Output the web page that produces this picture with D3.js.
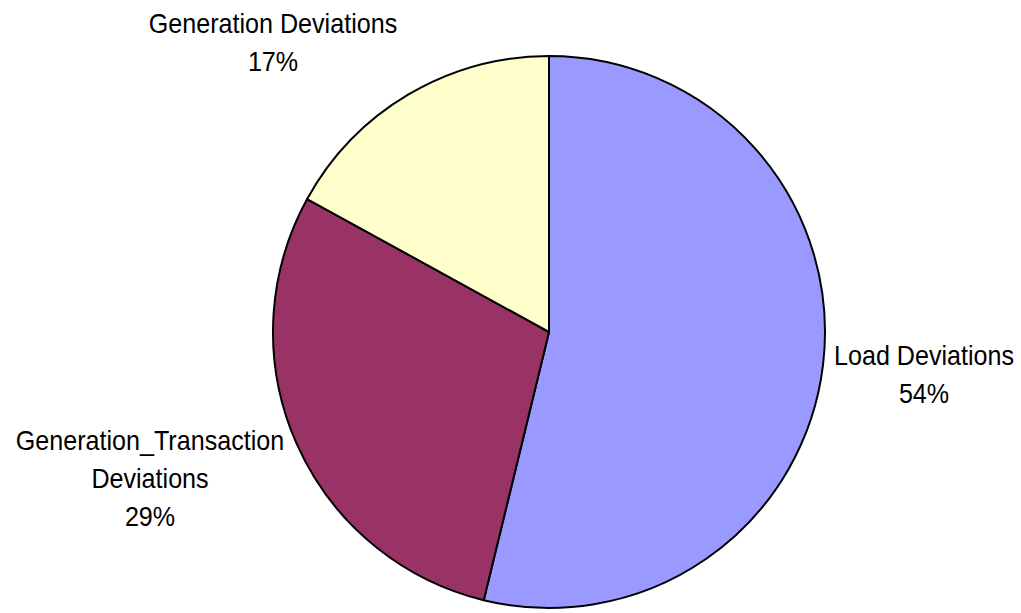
<!DOCTYPE html>
<html>
<head>
<meta charset="utf-8">
<script src="https://cdn.jsdelivr.net/npm/d3@7"></script>
<style>
  body { margin: 0; background: #fff; }
  .pie-label { font-family: "Liberation Sans Narrow", "Arial Narrow", "Liberation Sans", sans-serif; font-size: 27px; fill: #000; }
</style>
</head>
<body>
<div id="chart"></div>
<script>
const categories = ["Load Deviations", "Generation_Transaction Deviations", "Generation Deviations"];
const values = [53.8, 29.2, 17.0];
const colors = ["#9999FF", "#993366", "#FFFFCC"];

// label lines (Excel wraps the long name)
const labelLines = [
    ["Load Deviations"],
    ["Generation_Transaction", "Deviations"],
    ["Generation Deviations"]
];
// label anchor positions, worked out by eye from the reference
const labelPos = [
    { x: 924, y: 365 },
    { x: 150, y: 450 },
    { x: 273, y: 33 }
];

const width = 1021, height = 613;
const cx = 549, cy = 332, radius = 276;
const lineH = 38;
const squeeze = 0.93; // no narrow font installed, so squash the regular one

const svg = d3.select("#chart").append("svg")
    .attr("width", width)
    .attr("height", height);

const data = categories.map((name, i) => ({ name, value: values[i], i }));
const total = d3.sum(values);

const pie = d3.pie()
    .value(d => d.value)
    .sort(null);

const arc = d3.arc()
    .innerRadius(0)
    .outerRadius(radius);

const g = svg.append("g")
    .attr("transform", `translate(${cx}, ${cy})`);

g.selectAll(".slice")
    .data(pie(data))
    .enter().append("path")
        .attr("class", "slice")
        .attr("d", arc)
        .style("fill", d => colors[d.data.i])
        .style("stroke", "#000")
        .style("stroke-width", 2)
        .style("stroke-linejoin", "round");

const labels = svg.selectAll(".pie-label")
    .data(data)
    .enter().append("text")
        .attr("class", "pie-label")
        .attr("text-anchor", "middle")
        .attr("transform", d => `translate(${labelPos[d.i].x}, ${labelPos[d.i].y}) scale(${squeeze}, 1)`);

labels.each(function(d) {
    const t = d3.select(this);
    const lines = labelLines[d.i].concat([Math.round(d.value / total * 100) + "%"]);
    lines.forEach((line, k) => {
        t.append("tspan")
            .attr("x", 0)
            .attr("y", k * lineH)
            .text(line);
    });
});
</script>
</body>
</html>
